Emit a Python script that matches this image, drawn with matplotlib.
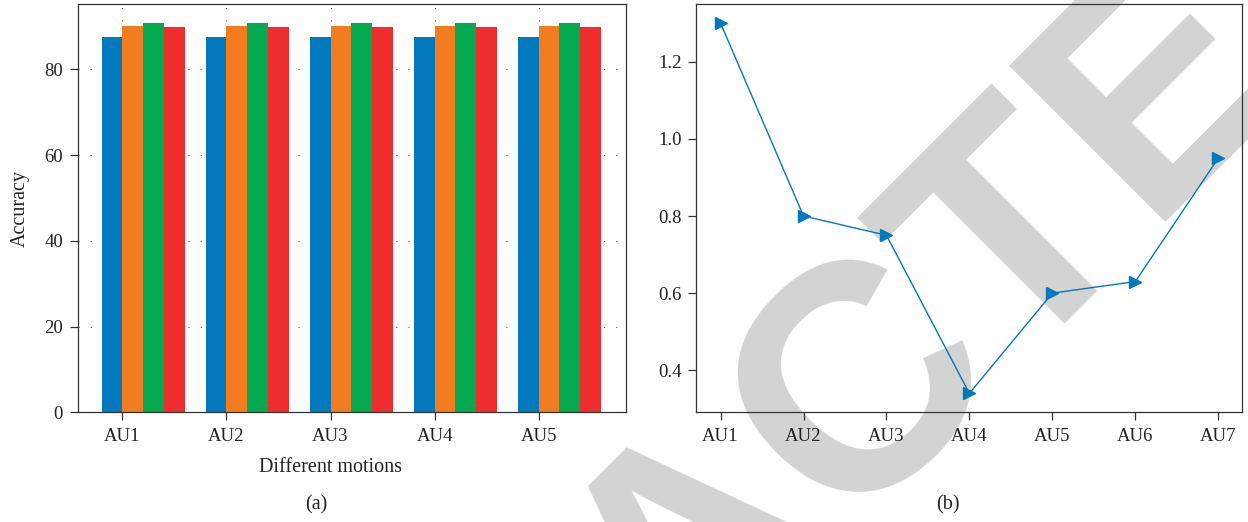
import matplotlib
matplotlib.use("Agg")
import matplotlib.pyplot as plt
import numpy as np

# ---- data ----
motions = ["AU1", "AU2", "AU3", "AU4", "AU5"]
series1 = [87.5, 87.5, 87.5, 87.5, 87.5]
series2 = [90.1, 90.1, 90.1, 90.1, 90.1]
series3 = [90.8, 90.8, 90.8, 90.8, 90.8]
series4 = [89.9, 89.9, 89.9, 89.9, 89.9]
bar_colors = ["#0279BC", "#F47C20", "#05A94F", "#EE2D2F"]

units = ["AU1", "AU2", "AU3", "AU4", "AU5", "AU6", "AU7"]
unit_values = [1.30, 0.80, 0.75, 0.34, 0.60, 0.63, 0.95]
yticks_a = [0, 20, 40, 60, 80]
yticks_b = [0.4, 0.6, 0.8, 1.0, 1.2]

plt.rcParams["font.family"] = ["Liberation Serif", "DejaVu Serif"]
W, H = 1248, 522
fig = plt.figure(figsize=(W / 100, H / 100), dpi=100)
fig.patch.set_facecolor("white")

spine_col = "#333333"
tick_fs = 13.5
lab_fs = 14.5

ax1 = fig.add_axes([77.7 / W, 1 - 412.3 / H, 548.3 / W, 408 / H])
ax2 = fig.add_axes([696 / W, 1 - 412.3 / H, 546.3 / W, 408 / H])

# ---- watermark (behind everything) ----
fig.text(758.5 / W, 1 - 607.5 / H, "RETRACTED", rotation=45, rotation_mode="anchor",
         ha="center", va="baseline", fontsize=232, fontweight="bold",
         family="Liberation Sans", color="#d3d3d3", zorder=-10)

for ax in (ax1, ax2):
    ax.patch.set_visible(False)
    for s in ax.spines.values():
        s.set_color(spine_col)
        s.set_linewidth(0.9)
    ax.tick_params(axis="both", direction="out", length=5.5, width=0.9,
                   color=spine_col, labelsize=tick_fs, labelcolor="#222222")
    ax.tick_params(axis="x", pad=6)
    ax.tick_params(axis="y", pad=5)
    ax.tick_params(top=False, right=False)

# ---- (a) grouped bars ----
x = np.arange(len(motions))
offsets = [-0.1, 0.1, 0.3, 0.5]
bw = 0.2
for vals, off, col in zip([series1, series2, series3, series4], offsets, bar_colors):
    ax1.bar(x + off, vals, width=bw, color=col, edgecolor="none", zorder=2)
ax1.set_xlim(-0.43, 4.84)
ax1.set_ylim(0, 95.2)
ax1.set_xticks(x)
ax1.set_xticklabels(motions)
ax1.set_yticks(yticks_a)
ax1.set_axisbelow(True)
ax1.grid(True, linestyle=(0, (1, 10)), linewidth=0.8, color="#555555")
ax1.set_ylabel("Accuracy", fontsize=lab_fs, color="#222222")
ax1.yaxis.label.set_va("center")
ax1.yaxis.set_label_coords(-0.105, 0.5)
ax1.set_xlabel("Different motions", fontsize=lab_fs, color="#222222")
ax1.xaxis.label.set_va("center")
ax1.xaxis.set_label_coords(0.4616, -0.1365)

# ---- (b) line ----
xb = np.arange(len(units))
ax2.plot(xb, unit_values, color="#0279BC", linewidth=1.0, marker=">",
         markersize=8.5, markerfacecolor="#0279BC", markeredgecolor="#0279BC", zorder=3)
ax2.set_xlim(-0.296, 6.29)
ax2.set_ylim(0.291, 1.349)
ax2.set_xticks(xb)
ax2.set_xticklabels(units)
ax2.set_yticks(yticks_b)
ax2.set_yticklabels([f"{v:.1f}" for v in yticks_b])

fig.text(316 / W, 1 - 505 / H, "(a)", ha="center", va="center", fontsize=lab_fs, color="#222222")
fig.text(948 / W, 1 - 505 / H, "(b)", ha="center", va="center", fontsize=lab_fs, color="#222222")

fig.savefig("out.png", dpi=100, facecolor="white")
